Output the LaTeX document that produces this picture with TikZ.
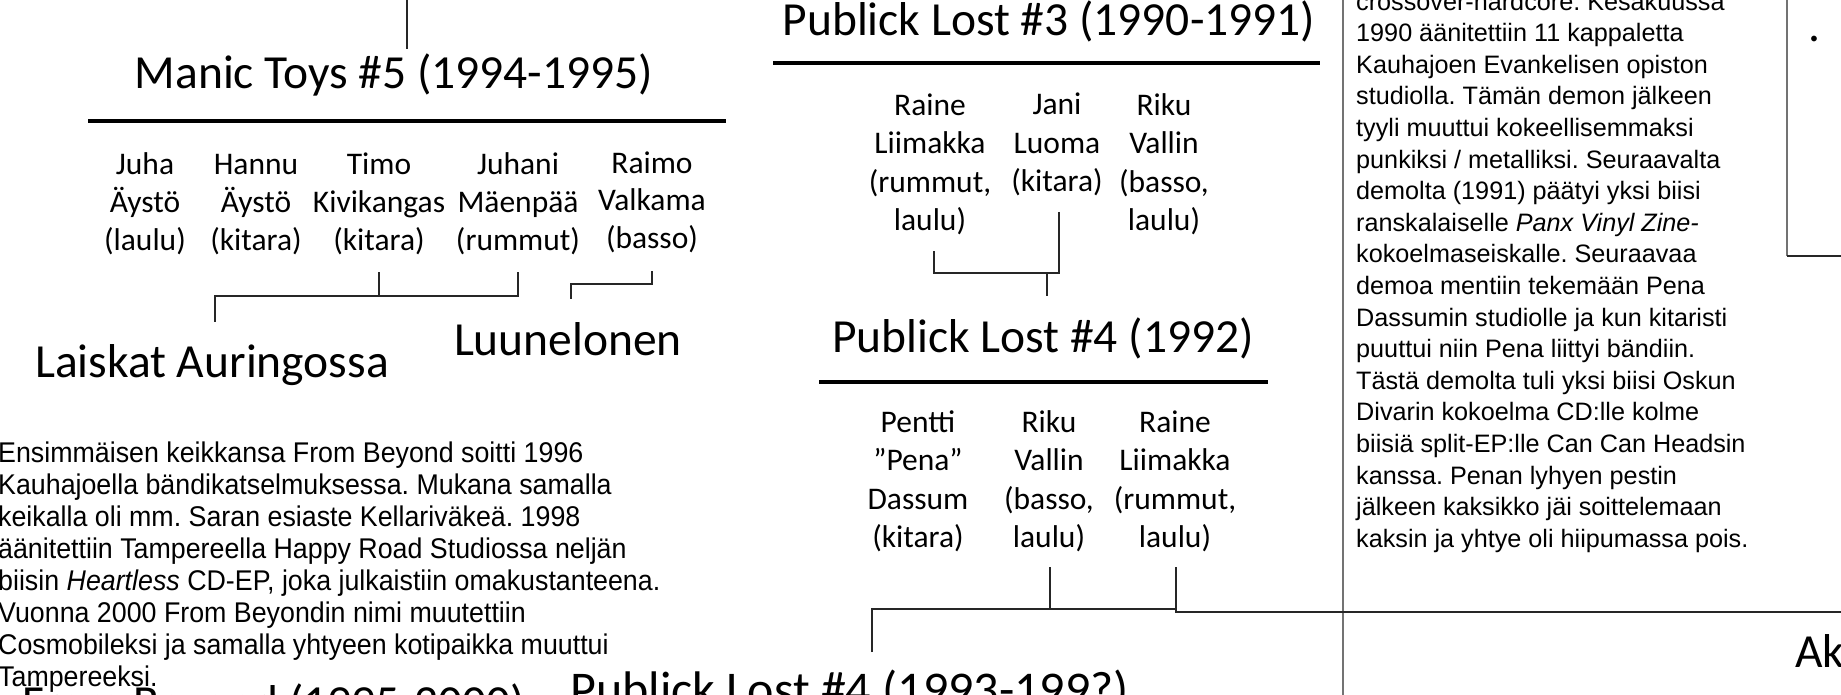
\documentclass[tikz,border=0pt]{standalone}
\usepackage{fontspec}
\setmainfont{Carlito}
\newfontfamily\arialf{Liberation Sans}
\newfontfamily\arialnarrow[FakeStretch=0.94]{Liberation Sans}
\frenchspacing
\begin{document}
\begin{tikzpicture}[x=1pt,y=-1pt,
  title/.style={font=\fontsize{47.5}{56}\selectfont, inner sep=0pt, anchor=base},
  titlew/.style={font=\fontsize{47.5}{56}\selectfont, inner sep=0pt, anchor=base west},
  member/.style={font=\fontsize{31.5}{37.5}\selectfont, align=center, inner sep=0pt, anchor=base},
  pmember/.style={font=\fontsize{31.5}{38.5}\selectfont, align=center, inner sep=0pt, anchor=base},
  conn/.style={line width=1.6pt, draw=black!85},
  bar/.style={line width=4.5pt, draw=black},
  frame/.style={line width=1.5pt, draw=black!55},
  para/.style={font=\arialf\fontsize{25.2}{31.6}\selectfont, align=left, inner sep=0pt, anchor=base west},
  lpara/.style={font=\arialnarrow\fontsize{28.5}{32.1}\selectfont, align=left, inner sep=0pt, anchor=base west}]
\useasboundingbox (0,0) rectangle (1841,695);
\clip (0,0) rectangle (1841,695);
\fill[white] (0,0) rectangle (1841,695);

% ---------- Manic Toys #5 ----------
\node[title] (mt) at (394,89) {Manic Toys \#5 (1994-1995)};
\coordinate (mtIn) at (407,-5);
\coordinate (mtInE) at (407,49);
\draw[conn] (mtIn) -- (mtInE);
\coordinate (mtBarW) at (88,121);
\coordinate (mtBarE) at (726,121);
\draw[bar] (mtBarW) -- (mtBarE);

% base anchor = baseline of the last line
\node[member] (m1) at (145,250) {Juha\\Äystö\\(laulu)};
\node[member] (m2) at (256,250) {Hannu\\Äystö\\(kitara)};
\node[member] (m3) at (379,250) {Timo\\Kivikangas\\(kitara)};
\node[member] (m4) at (518,250) {Juhani\\Mäenpää\\(rummut)};
\node[member] (m5) at (652,248) {Raimo\\Valkama\\(basso)};

\node[title] (la) at (212,377) {Laiskat Auringossa};
\node[title] (lu) at (568,355) {Luunelonen};

\coordinate (laIn) at (215,322);
\coordinate (luIn) at (571,299);
\draw[conn] (m3 |- 0,272) -- (m3 |- 0,296);
\draw[conn] (m4 |- 0,272) -- (m4 |- 0,296) -- (laIn |- 0,296) -- (laIn);
\draw[conn] (m5 |- 0,271) -- (m5 |- 0,284) -- (luIn |- 0,284) -- (luIn);

% ---------- Publick Lost #3 ----------
\node[title] (p3) at (1049,36) {Publick Lost \#3 (1990-1991)};
\coordinate (p3BarW) at (773,63);
\coordinate (p3BarE) at (1320,63);
\draw[bar] (p3BarW) -- (p3BarE);

\node[pmember] (a1) at (930,230.5) {Raine\\Liimakka\\(rummut,\\laulu)};
\node[pmember] (a2) at (1057,192) {Jani\\Luoma\\(kitara)};
\node[pmember] (a3) at (1164,230.5) {Riku\\Vallin\\(basso,\\laulu)};

\coordinate (p4In) at (1047,296);
\draw[conn] (1059,212) -- (1059,273) -- (934,273) -- (934,251);
\draw[conn] (p4In |- 0,273) -- (p4In);

% ---------- Publick Lost #4 (1992) ----------
\node[title] (p4) at (1043,352) {Publick Lost \#4 (1992)};
\coordinate (p4BarW) at (819,382);
\coordinate (p4BarE) at (1268,382);
\draw[bar] (p4BarW) -- (p4BarE);

\node[pmember] (b1) at (918,547.5) {Pentti\\”Pena”\\Dassum\\(kitara)};
\node[pmember] (b2) at (1049,547.5) {Riku\\Vallin\\(basso,\\laulu)};
\node[pmember] (b3) at (1175,547.5) {Raine\\Liimakka\\(rummut,\\laulu)};

% right frame lines
\draw[frame] (1343,-5) -- (1343,700);
\draw[frame] (1787,-5) -- (1787,256);
\coordinate (boxE) at (1850,256);
\draw[conn] (1787,256) -- (boxE);

\coordinate (p5In) at (872,652);
\coordinate (akIn) at (1850,612);
\draw[conn] (1050,567) -- (1050,609);
\draw[conn] (p5In) -- (p5In |- 0,609) -- (1176,609);
\draw[conn] (1176,567) -- (1176,612) -- (akIn);

% ---------- bottom titles ----------
\node[titlew, font=\fontsize{50}{60}\selectfont] (p5) at (570,706) {Publick Lost \#4 (1993-199?)};
\node[titlew] (fb) at (22,718) {From Beyond (1995-2000)};
\node[titlew] (ak) at (1795,667) {Ak};
\node[titlew] (dot) at (1808,42) {.};

% ---------- paragraphs (base = last line) ----------
\node[lpara] (lp) at (-2,686.7) {Ensimmäisen keikkansa From Beyond soitti 1996\\
Kauhajoella bändikatselmuksessa. Mukana samalla\\
keikalla oli mm. Saran esiaste Kellariväkeä. 1998\\
äänitettiin Tampereella Happy Road Studiossa neljän\\
biisin \textit{Heartless} CD-EP, joka julkaistiin omakustanteena.\\
Vuonna 2000 From Beyondin nimi muutettiin\\
Cosmobileksi ja samalla yhtyeen kotipaikka muuttui\\
Tampereeksi.};

\node[para] (rp) at (1356,547.2) {crossover-hardcore. Kesäkuussa\\
1990 äänitettiin 11 kappaletta\\
Kauhajoen Evankelisen opiston\\
studiolla. Tämän demon jälkeen\\
tyyli muuttui kokeellisemmaksi\\
punkiksi / metalliksi. Seuraavalta\\
demolta (1991) päätyi yksi biisi\\
ranskalaiselle \textit{Panx Vinyl Zine-}\\
kokoelmaseiskalle. Seuraavaa\\
demoa mentiin tekemään Pena\\
Dassumin studiolle ja kun kitaristi\\
puuttui niin Pena liittyi bändiin.\\
Tästä demolta tuli yksi biisi Oskun\\
Divarin kokoelma CD:lle kolme\\
biisiä split-EP:lle Can Can Headsin\\
kanssa. Penan lyhyen pestin\\
jälkeen kaksikko jäi soittelemaan\\
kaksin ja yhtye oli hiipumassa pois.};
\end{tikzpicture}
\end{document}
